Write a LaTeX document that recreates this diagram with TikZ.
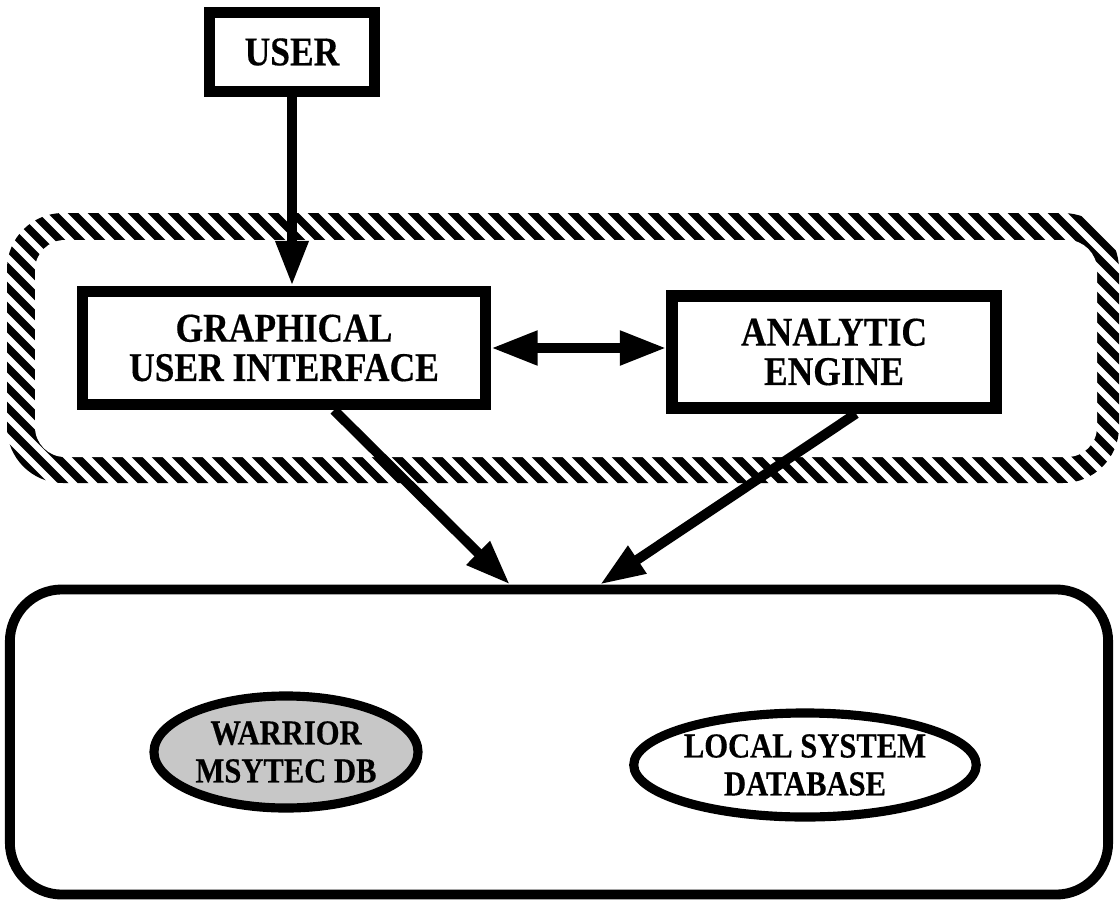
\documentclass[tikz,border=0pt]{standalone}
\usepackage{fontspec}
\setmainfont{Liberation Serif}
\newfontfamily\boxfont[FakeStretch=0.87, FakeBold=0.4]{Liberation Serif Bold}
\usepackage{tikz}
\usetikzlibrary{calc,arrows.meta,shapes.geometric}

\begin{document}
\begin{tikzpicture}[x=0.025cm, y=-0.025cm,
		box/.style={draw, line width=8pt, align=center, inner sep=0pt,
			font=\boxfont\fontsize{29}{28}\selectfont},
		dbell/.style={draw, ellipse, line width=6.5pt, align=center, inner sep=0pt,
			font=\boxfont\fontsize{25}{27}\selectfont},
		arr/.style={line width=7pt, -{Triangle[length=32pt 0 0, width=22pt 0 0]}},
		arrtwo/.style={line width=7pt, {Triangle[length=33pt 0 0, width=23pt 0 0]}-{Triangle[length=33pt 0 0, width=23pt 0 0]}}]
			%%%%% START %%%%%
			\useasboundingbox (0, 0) rectangle (1120, 903);
			
			% hatched band round gui and engine
			\begin{scope}
				\clip[rounded corners=1.4cm] (7, 213) rectangle (1119, 483);
				\foreach \x in {-300, -280, ..., 1140}
					\draw[line width=5.5pt] (\x, 200) -- ++(300, 300);
			\end{scope}
			\fill[white, rounded corners=0.75cm] (35, 240) rectangle (1097, 457);
			
			\node[box, minimum width=4.125cm, minimum height=1.975cm] (user) at (292, 52) {USER};
			\node[box, minimum width=10.075cm, minimum height=2.825cm] (gui) at (284, 348) {GRAPHICAL\\USER INTERFACE};
			\node[box, minimum width=8.1cm, minimum height=2.8cm] (engine) at (834, 352) {ANALYTIC\\ENGINE};
			
			\node[draw, line width=7pt, rounded corners=1.3cm, minimum width=27.45cm, minimum height=7.625cm] (dbase) at (559, 742) {};
			\node[dbell, fill=black!22, minimum width=6.6cm, minimum height=2.8cm] (warrior) at (286, 752) {WARRIOR\\MSYTEC DB};
			\node[dbell, minimum width=7.55cm, minimum height=2.6cm] (local) at (805, 765) {LOCAL SYSTEM\\DATABASE};
			
			\draw[arr] (user.south) -- (user.south |- gui.north);
			\draw[arrtwo] (gui.east) -- (gui.east -| engine.west);
			\draw[arr] ($(gui.south)+(50, 0)$) -- ($(dbase.north)+(-49, 0)$);
			\draw[arr] ($(engine.south)+(22, 0)$) -- ($(dbase.north)+(41, 0)$);
			
			%%%%% END %%%%%
		\end{tikzpicture}
\end{document}
